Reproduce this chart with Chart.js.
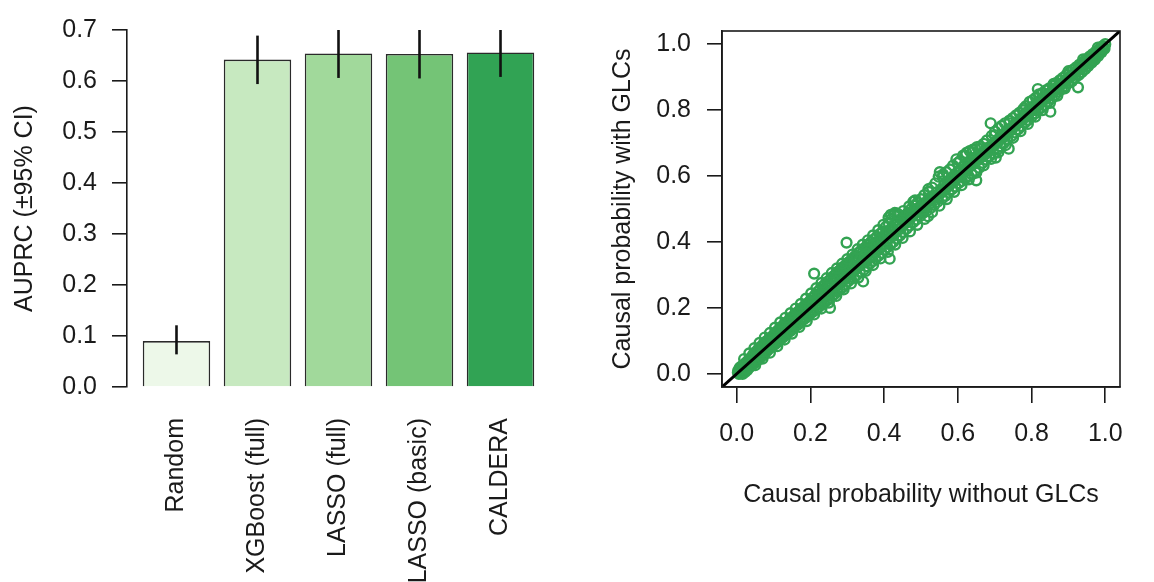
<!DOCTYPE html>
<html>
<head>
<meta charset="utf-8">
<script src="https://cdn.jsdelivr.net/npm/chart.js@4.4.1/dist/chart.umd.min.js"></script>
<style>
  body { margin: 0; background: #ffffff; }
  .panel { position: absolute; top: 0; width: 577px; height: 582px; }
</style>
</head>
<body>
<div class="panel" style="left:0"><canvas id="barChart" width="577" height="582"></canvas></div>
<div class="panel" style="left:577px"><canvas id="scatterChart" width="577" height="582"></canvas></div>
<script>
// Left panel: AUPRC by method
const methods = ['Random', 'XGBoost (full)', 'LASSO (full)', 'LASSO (basic)', 'CALDERA'];
const auprc = [0.090, 0.642, 0.654, 0.653, 0.656];
const ciLow = [0.064, 0.594, 0.606, 0.605, 0.608];
const ciHigh = [0.121, 0.689, 0.700, 0.700, 0.700];
const barColors = ['#edf8e9', '#c7e9c0', '#a1d99b', '#74c476', '#31a354'];
const auprcTicks = [0, 0.1, 0.2, 0.3, 0.4, 0.5, 0.6, 0.7];

// Right panel: causal probability without vs with GLCs  [without, with]
const glcPoints = [
  [0.004,0.010],[0.006,0.000],[0.008,0.018],[0.010,0.004],[0.012,0.022],[0.014,0.008],[0.016,0.000],[0.018,0.027],
  [0.020,0.012],[0.022,0.005],[0.025,0.034],[0.027,0.018],[0.029,0.012],[0.031,0.040],[0.033,0.022],[0.035,0.020],
  [0.037,0.047],[0.040,0.030],[0.042,0.028],[0.044,0.058],[0.046,0.036],[0.048,0.032],[0.051,0.066],[0.053,0.045],
  [0.055,0.040],[0.058,0.074],[0.060,0.052],[0.062,0.046],[0.065,0.082],[0.067,0.058],[0.069,0.054],[0.072,0.090],
  [0.074,0.066],[0.076,0.060],[0.079,0.098],[0.081,0.072],[0.083,0.070],[0.086,0.104],[0.088,0.080],[0.090,0.078],
  [0.093,0.110],[0.095,0.087],[0.097,0.085],
  [0.100,0.118],[0.102,0.094],[0.104,0.090],[0.107,0.127],[0.109,0.101],[0.111,0.097],[0.114,0.134],[0.116,0.108],
  [0.118,0.104],[0.121,0.142],[0.123,0.116],[0.125,0.110],[0.128,0.150],[0.130,0.124],[0.132,0.118],[0.135,0.156],
  [0.137,0.131],[0.139,0.125],[0.142,0.163],[0.144,0.138],[0.146,0.130],[0.149,0.171],[0.151,0.146],[0.153,0.138],
  [0.156,0.178],[0.158,0.152],[0.160,0.145],[0.163,0.185],[0.165,0.160],[0.167,0.150],[0.170,0.192],[0.172,0.166],
  [0.174,0.158],[0.177,0.199],[0.179,0.172],[0.181,0.165],[0.184,0.206],[0.186,0.180],[0.188,0.170],[0.191,0.213],
  [0.193,0.186],[0.195,0.178],[0.198,0.220],
  [0.200,0.194],[0.202,0.185],[0.205,0.230],[0.207,0.200],[0.209,0.190],[0.210,0.304],[0.212,0.238],[0.214,0.207],
  [0.216,0.196],[0.219,0.248],[0.221,0.214],[0.223,0.203],[0.226,0.256],[0.228,0.222],[0.230,0.210],[0.233,0.265],
  [0.235,0.230],[0.237,0.216],[0.240,0.272],[0.242,0.236],[0.244,0.222],[0.247,0.280],[0.249,0.244],[0.251,0.228],
  [0.253,0.200],[0.255,0.288],[0.257,0.252],[0.259,0.236],[0.262,0.296],[0.264,0.258],[0.266,0.242],[0.269,0.303],
  [0.271,0.266],[0.273,0.250],[0.276,0.311],[0.278,0.273],[0.280,0.256],[0.283,0.318],[0.285,0.280],[0.287,0.262],
  [0.290,0.325],[0.292,0.288],[0.294,0.270],[0.297,0.330],[0.298,0.398],[0.299,0.294],
  [0.302,0.280],[0.305,0.340],[0.307,0.302],[0.310,0.288],[0.313,0.348],[0.315,0.310],[0.318,0.292],[0.321,0.357],
  [0.323,0.318],[0.326,0.300],[0.329,0.366],[0.331,0.326],[0.334,0.310],[0.337,0.374],[0.340,0.334],[0.343,0.280],
  [0.345,0.316],[0.348,0.383],[0.350,0.344],[0.353,0.326],[0.356,0.392],[0.358,0.352],[0.361,0.334],[0.364,0.400],
  [0.366,0.360],[0.369,0.342],[0.372,0.408],[0.374,0.368],[0.377,0.350],[0.380,0.416],[0.382,0.376],[0.385,0.358],
  [0.388,0.424],[0.390,0.384],[0.393,0.366],[0.396,0.432],[0.398,0.392],
  [0.401,0.376],[0.404,0.445],[0.406,0.402],[0.409,0.384],[0.412,0.458],[0.414,0.410],[0.415,0.349],[0.417,0.392],
  [0.420,0.470],[0.422,0.418],[0.425,0.400],[0.427,0.482],[0.429,0.488],[0.431,0.428],[0.434,0.410],[0.437,0.478],
  [0.440,0.438],[0.443,0.420],[0.446,0.470],[0.449,0.448],[0.452,0.430],[0.455,0.480],[0.458,0.458],[0.461,0.440],
  [0.464,0.488],[0.467,0.468],[0.470,0.450],[0.473,0.500],[0.476,0.478],[0.479,0.522],[0.479,0.460],[0.482,0.510],
  [0.485,0.488],[0.488,0.468],[0.491,0.520],[0.494,0.498],[0.497,0.478],
  [0.500,0.530],[0.503,0.508],[0.506,0.488],[0.509,0.542],[0.512,0.518],[0.515,0.494],[0.519,0.478],[0.521,0.552],
  [0.524,0.528],[0.527,0.504],[0.530,0.565],[0.533,0.540],[0.536,0.512],[0.539,0.578],[0.542,0.550],[0.545,0.522],
  [0.548,0.598],[0.551,0.612],[0.554,0.560],[0.557,0.532],[0.560,0.605],[0.563,0.572],[0.566,0.540],[0.569,0.612],
  [0.572,0.582],[0.575,0.550],[0.578,0.620],[0.581,0.592],[0.584,0.560],[0.587,0.632],[0.590,0.602],[0.593,0.568],
  [0.596,0.651],[0.599,0.612],
  [0.602,0.578],[0.605,0.645],[0.608,0.618],[0.611,0.585],[0.614,0.662],[0.617,0.630],[0.620,0.592],[0.623,0.670],
  [0.626,0.640],[0.629,0.600],[0.632,0.676],[0.635,0.648],[0.638,0.605],[0.641,0.680],[0.644,0.655],[0.647,0.615],
  [0.650,0.587],[0.652,0.688],[0.655,0.660],[0.658,0.625],[0.661,0.690],[0.664,0.668],[0.667,0.640],[0.670,0.698],
  [0.673,0.676],[0.676,0.650],[0.679,0.708],[0.682,0.686],[0.685,0.660],[0.689,0.760],[0.692,0.722],[0.695,0.694],
  [0.698,0.668],
  [0.701,0.735],[0.703,0.656],[0.704,0.705],[0.707,0.680],[0.710,0.745],[0.713,0.716],[0.716,0.690],[0.719,0.752],
  [0.722,0.726],[0.725,0.700],[0.728,0.760],[0.731,0.735],[0.734,0.710],[0.738,0.683],[0.740,0.768],[0.743,0.745],
  [0.746,0.722],[0.749,0.776],[0.752,0.755],[0.755,0.732],[0.758,0.784],[0.761,0.764],[0.764,0.742],[0.767,0.792],
  [0.770,0.774],[0.773,0.752],[0.776,0.800],[0.779,0.784],[0.782,0.762],[0.785,0.812],[0.788,0.794],[0.791,0.770],
  [0.795,0.825],[0.797,0.804],
  [0.800,0.780],[0.803,0.830],[0.806,0.812],[0.809,0.790],[0.812,0.838],[0.815,0.822],[0.817,0.864],[0.818,0.800],
  [0.821,0.845],[0.824,0.830],[0.827,0.808],[0.830,0.852],[0.833,0.838],[0.836,0.816],[0.839,0.860],[0.842,0.846],
  [0.845,0.826],[0.848,0.866],[0.851,0.795],[0.852,0.854],[0.855,0.836],[0.858,0.874],[0.861,0.862],[0.864,0.846],
  [0.867,0.882],[0.870,0.870],[0.873,0.856],[0.876,0.890],[0.879,0.878],[0.882,0.864],[0.885,0.898],[0.888,0.886],
  [0.891,0.872],[0.894,0.906],[0.897,0.894],
  [0.900,0.882],[0.903,0.914],[0.906,0.902],[0.909,0.890],[0.912,0.922],[0.915,0.910],[0.918,0.898],[0.921,0.930],
  [0.924,0.918],[0.926,0.869],[0.927,0.906],[0.930,0.938],[0.933,0.926],[0.936,0.915],[0.939,0.946],[0.942,0.934],
  [0.945,0.924],[0.948,0.954],[0.951,0.942],[0.954,0.934],[0.957,0.962],[0.960,0.950],[0.963,0.944],[0.966,0.970],
  [0.969,0.960],[0.972,0.954],[0.975,0.978],[0.978,0.968],[0.981,0.964],[0.984,0.986],[0.987,0.978],[0.990,0.976],
  [0.993,0.994],[0.996,0.990],[0.998,0.986],[1.000,1.000],
  // denser core of the band
  [0.003,0.004],[0.009,0.012],[0.013,0.015],[0.017,0.013],[0.021,0.026],[0.024,0.016],[0.028,0.030],[0.032,0.028],
  [0.036,0.036],[0.039,0.046],[0.043,0.040],[0.047,0.050],[0.050,0.044],[0.054,0.062],[0.057,0.052],[0.061,0.068],
  [0.064,0.060],[0.068,0.076],[0.071,0.068],[0.075,0.085],[0.078,0.078],[0.082,0.092],[0.085,0.084],[0.089,0.100],
  [0.092,0.094],[0.096,0.106],[0.099,0.100],[0.103,0.116],[0.106,0.108],[0.110,0.122],[0.113,0.116],[0.117,0.130],
  [0.120,0.124],[0.124,0.138],[0.127,0.132],[0.131,0.146],[0.134,0.140],[0.138,0.152],[0.141,0.146],[0.145,0.160],
  [0.148,0.154],[0.152,0.168],[0.155,0.160],[0.159,0.175],[0.162,0.168],[0.166,0.182],[0.169,0.176],[0.173,0.188],
  [0.176,0.182],[0.180,0.196],[0.183,0.188],[0.187,0.204],[0.190,0.196],[0.194,0.210],[0.197,0.204],
  [0.203,0.222],[0.208,0.215],[0.213,0.226],[0.218,0.232],[0.222,0.240],[0.227,0.238],[0.232,0.250],[0.236,0.258],
  [0.241,0.254],[0.246,0.266],[0.250,0.272],[0.256,0.270],[0.261,0.282],[0.265,0.290],[0.270,0.285],[0.275,0.298],
  [0.279,0.306],[0.284,0.300],[0.289,0.312],[0.293,0.320],[0.298,0.312],[0.304,0.326],[0.309,0.334],[0.314,0.328],
  [0.320,0.340],[0.325,0.350],[0.330,0.342],[0.336,0.356],[0.341,0.366],[0.346,0.360],[0.352,0.372],[0.357,0.380],
  [0.362,0.374],[0.368,0.388],[0.373,0.396],[0.378,0.390],[0.384,0.402],[0.389,0.412],[0.394,0.404],[0.400,0.418],
  [0.405,0.428],[0.410,0.420],[0.416,0.436],[0.421,0.444],[0.426,0.436],[0.432,0.452],[0.437,0.458],[0.442,0.452],
  [0.448,0.466],[0.453,0.472],[0.458,0.466],[0.464,0.478],[0.469,0.486],[0.474,0.480],[0.480,0.492],[0.485,0.500],
  [0.490,0.496],[0.496,0.506],
  [0.501,0.496],[0.507,0.515],[0.513,0.506],[0.518,0.526],[0.523,0.516],[0.529,0.536],[0.534,0.526],[0.540,0.540],
  [0.546,0.536],[0.552,0.548],[0.558,0.552],[0.564,0.560],[0.570,0.566],[0.576,0.570],[0.582,0.580],[0.588,0.584],
  [0.594,0.590],[0.600,0.598],[0.606,0.602],[0.612,0.608],[0.618,0.614],[0.624,0.620],[0.630,0.626],[0.636,0.632],
  [0.642,0.636],[0.648,0.644],[0.654,0.648],[0.660,0.654],[0.666,0.662],[0.672,0.664],[0.678,0.676],[0.684,0.678],
  [0.690,0.688],[0.696,0.690],[0.702,0.700],[0.708,0.702],[0.714,0.712],[0.720,0.714],[0.726,0.724],[0.732,0.726],
  [0.738,0.736],[0.744,0.738],[0.750,0.748],[0.756,0.752],[0.762,0.760],[0.768,0.764],[0.774,0.772],[0.780,0.776],
  [0.786,0.784],[0.792,0.788],[0.798,0.796],[0.804,0.800],[0.810,0.808],[0.816,0.812],[0.822,0.820],[0.828,0.824],
  [0.834,0.832],[0.840,0.836],[0.846,0.844],[0.852,0.848],[0.858,0.856],[0.864,0.860],[0.870,0.868],[0.876,0.872],
  [0.882,0.880],[0.888,0.884],[0.894,0.892],[0.900,0.896],[0.906,0.904],[0.912,0.908],[0.918,0.916],[0.924,0.920],
  [0.930,0.928],[0.936,0.932],[0.942,0.940],[0.948,0.944],[0.954,0.952],[0.960,0.956],[0.966,0.964],[0.972,0.968],
  [0.978,0.976],[0.984,0.980],[0.990,0.988],
  // outer edges of the band
  [0.020,0.045],[0.034,0.062],[0.048,0.078],[0.062,0.094],[0.076,0.110],[0.090,0.124],[0.104,0.140],[0.118,0.156],
  [0.132,0.170],[0.146,0.184],[0.160,0.198],[0.174,0.212],[0.188,0.228],[0.202,0.244],[0.216,0.260],[0.230,0.276],
  [0.244,0.290],[0.258,0.306],[0.272,0.320],[0.286,0.334],[0.300,0.348],[0.314,0.362],[0.328,0.378],[0.342,0.392],
  [0.356,0.405],[0.370,0.420],[0.384,0.436],[0.398,0.452],[0.412,0.474],[0.418,0.482],[0.436,0.486],[0.452,0.494],
  [0.468,0.508],[0.484,0.526],
  [0.050,0.026],[0.070,0.046],[0.090,0.064],[0.110,0.084],[0.130,0.104],[0.150,0.122],[0.170,0.142],[0.190,0.160],
  [0.210,0.180],[0.230,0.198],[0.250,0.216],[0.270,0.236],[0.290,0.256],[0.310,0.274],[0.330,0.292],[0.350,0.312],
  [0.370,0.330],[0.390,0.350],[0.410,0.370],[0.430,0.392],[0.450,0.412],[0.470,0.432],[0.490,0.452],[0.510,0.470],
  [0.530,0.490],[0.550,0.510],[0.570,0.530],[0.590,0.552],[0.610,0.572],[0.630,0.590],[0.650,0.610],[0.670,0.632],
  [0.690,0.652],[0.710,0.672],[0.730,0.694],[0.750,0.716],[0.770,0.736],[0.790,0.758],[0.810,0.780],[0.830,0.800],
  [0.850,0.822],[0.870,0.844],[0.890,0.866],[0.910,0.888],[0.930,0.910],[0.950,0.932],[0.970,0.952],
  [0.520,0.560],[0.560,0.598],[0.600,0.640],[0.620,0.662],[0.640,0.672],[0.660,0.682],[0.700,0.724],[0.740,0.760],
  [0.780,0.806],[0.820,0.848],[0.860,0.880],[0.900,0.918],[0.940,0.954],[0.980,0.990]
];
const probRange = [-0.04, 1.04];
const probTicks = [0, 0.2, 0.4, 0.6, 0.8, 1.0];

const ink = '#1a1a1a';
const labelFont = {family: "'Liberation Sans', Arial, sans-serif", size: 25};
Chart.defaults.font.family = labelFont.family;
Chart.defaults.font.size = labelFont.size;
Chart.defaults.color = ink;

// error bars, clipped to the plot region like R does
const errorBars = {
    id: 'errorBars',
    afterDatasetsDraw(chart) {
        const {ctx, chartArea, scales: {x, y}} = chart;
        ctx.save();
        ctx.beginPath();
        ctx.rect(chartArea.left, chartArea.top, chartArea.right - chartArea.left, chartArea.bottom - chartArea.top);
        ctx.clip();
        ctx.strokeStyle = '#111';
        ctx.lineWidth = 2.6;
        methods.forEach((m, i) => {
            const px = x.getPixelForValue(i);
            ctx.beginPath();
            ctx.moveTo(px, y.getPixelForValue(ciLow[i]));
            ctx.lineTo(px, y.getPixelForValue(ciHigh[i]));
            ctx.stroke();
        });
        ctx.restore();
    }
};

// full box around the scatter panel
const plotBox = {
    id: 'plotBox',
    afterDraw(chart) {
        const {ctx, chartArea} = chart;
        ctx.save();
        ctx.strokeStyle = ink;
        ctx.lineWidth = 1.6;
        ctx.strokeRect(chartArea.left, chartArea.top, chartArea.right - chartArea.left, chartArea.bottom - chartArea.top);
        ctx.restore();
    }
};

// Bar chart
new Chart(document.getElementById('barChart').getContext('2d'), {
    type: 'bar',
    data: {
        datasets: [{
            data: methods.map((m, i) => ({x: i, y: auprc[i]})),
            backgroundColor: barColors,
            borderColor: '#2a2a2a',
            borderWidth: 1.6,
            barPercentage: 0.833,
            categoryPercentage: 1.0
        }]
    },
    options: {
        responsive: false,
        animation: false,
        layout: {padding: {top: 25, right: 27, bottom: 0, left: 0}},
        plugins: {legend: {display: false}, tooltip: {enabled: false}},
        scales: {
            x: {
                type: 'linear',
                offset: false,
                min: -0.611,
                max: 4.611,
                afterFit: (s) => { s.height = 195; },
                grid: {display: false, drawTicks: false, offset: false},
                border: {display: false},
                ticks: {
                    font: labelFont,
                    stepSize: 1,
                    includeBounds: false,
                    autoSkip: false,
                    minRotation: 90,
                    maxRotation: 90,
                    padding: 31,
                    callback: (v) => Number.isInteger(v) ? methods[v] : ''
                }
            },
            y: {
                min: auprcTicks[0],
                max: auprcTicks[auprcTicks.length - 1],
                afterFit: (s) => { s.width = 127; },
                grid: {drawOnChartArea: false, tickLength: 15, color: ink, lineWidth: 1.6},
                border: {color: ink, width: 1.6},
                ticks: {font: labelFont, stepSize: 0.1, padding: 15, callback: (v) => v.toFixed(1)},
                title: {display: true, text: 'AUPRC (±95% CI)', font: labelFont, padding: {top: 10, bottom: 0}}
            }
        }
    },
    plugins: [errorBars]
});

// Scatter chart
new Chart(document.getElementById('scatterChart').getContext('2d'), {
    type: 'scatter',
    data: {
        datasets: [{
            data: probRange.map(v => ({x: v, y: v})),
            showLine: true,
            borderColor: '#000',
            borderWidth: 3,
            pointRadius: 0,
            order: 0
        }, {
            data: glcPoints.map(p => ({x: p[0], y: p[1]})),
            pointStyle: 'circle',
            pointRadius: 4.9,
            pointBorderWidth: 2.4,
            borderColor: '#33a352',
            backgroundColor: 'rgba(0,0,0,0)',
            order: 1
        }]
    },
    options: {
        responsive: false,
        animation: false,
        layout: {padding: {top: 25, right: 34, bottom: 0, left: 0}},
        plugins: {legend: {display: false}, tooltip: {enabled: false}},
        scales: {
            x: {
                min: probRange[0],
                max: probRange[1],
                afterFit: (s) => { s.height = 195; },
                grid: {drawOnChartArea: false, tickLength: 16, color: ink, lineWidth: 1.6},
                border: {color: ink, width: 1.6},
                ticks: {font: labelFont, stepSize: 0.2, includeBounds: false, padding: 16, callback: (v) => v.toFixed(1)},
                title: {display: true, text: 'Causal probability without GLCs', font: labelFont, padding: {top: 0, bottom: 72}}
            },
            y: {
                min: probRange[0],
                max: probRange[1],
                afterFit: (s) => { s.width = 145; },
                grid: {drawOnChartArea: false, tickLength: 15, color: ink, lineWidth: 1.6},
                border: {color: ink, width: 1.6},
                ticks: {font: labelFont, stepSize: 0.2, includeBounds: false, padding: 16, callback: (v) => v.toFixed(1)},
                title: {display: true, text: 'Causal probability with GLCs', font: labelFont, padding: {top: 31, bottom: 0}}
            }
        }
    },
    plugins: [plotBox]
});
</script>
</body>
</html>
